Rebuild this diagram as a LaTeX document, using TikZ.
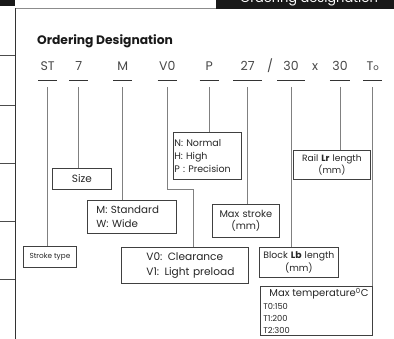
\documentclass[tikz,border=0pt]{standalone}
\usepackage{fontspec}
\setmainfont{Poppins}
\begin{document}
\begin{tikzpicture}[x=1pt,y=-1pt,
  conn/.style={draw=black!50, line width=0.9pt},
  rule/.style={draw=black!80, line width=0.9pt},
  uline/.style={draw=black!80, line width=0.8pt},
  code/.style={inner sep=0pt, text height=9pt, text depth=9pt, anchor=south, font=\fontsize{12.5}{14}\selectfont, text=black!72},
  box/.style={draw=black!75, line width=0.8pt, inner sep=0pt, anchor=north west, text=black!85},
]
\useasboundingbox (0,0) rectangle (394,339);
% header
\fill[black!90] (0,0) rectangle (15,6);
\fill[black!90] (216,0) rectangle (394,9);
\draw[draw=black!45, line width=0.8pt] (15,8) -- (216,8);
\begin{scope}
  \clip (0,0) rectangle (394,339);
  \node[anchor=base, text=white, font=\fontsize{13}{15}\selectfont, inner sep=0pt] (hdr) at (309,3) {Ordering designation};
\end{scope}
% left frame
\draw[rule] (15,8) -- (15,339);
\foreach \yy in {55,105,163,221,279} \draw[draw=black!70, line width=0.8pt] (0,\yy) -- (15,\yy);
% title
\node[anchor=base west, inner sep=0pt, font=\bfseries\fontsize{12.3}{14}\selectfont, text=black!90] (title) at (37,45) {Ordering Designation};
% codes
\node[code, minimum width=19] (st) at (47.7,80) {ST};
\node[code, minimum width=19] (seven) at (78.7,80) {7};
\node[code, minimum width=19] (m) at (122.7,80) {M};
\node[code, minimum width=19] (v0) at (167.3,80) {V0};
\node[code, minimum width=19] (p) at (209.3,80) {P};
\node[code, minimum width=29] (s27) at (247.7,80) {27};
\node[code] (slash) at (270,80) {/};
\node[code, minimum width=27] (s30a) at (291,80) {30};
\node[code] (times) at (315,80) {x};
\node[code, minimum width=20] (s30b) at (340,80) {30};
\node[code, minimum width=19] (to) at (372.7,80) {T{\fontsize{8.5}{9}\selectfont o}};
\foreach \n in {st,seven,m,v0,p,s27,s30a,s30b,to} \draw[uline] (\n.south west) -- (\n.south east);
% boxes
\node[box, minimum width=59, minimum height=21, font=\fontsize{10.5}{12}\selectfont] (size) at (52,168) {Size};
\node[box, minimum width=89, minimum height=33, text width=79, inner xsep=5, align=left, font=\fontsize{10.3}{13.5}\selectfont] (mbox) at (87,200) {\hspace*{4pt}M: Standard\\\hspace*{4pt}W: Wide};
\node[box, minimum width=68, minimum height=47, text width=66, inner xsep=1, align=left, font=\fontsize{9.5}{13}\selectfont] (pbox) at (173,132) {N: Normal\\H: High\\P : Precision};
\node[box, minimum width=67, minimum height=33, text width=67, align=center, font=\fontsize{9.8}{11.5}\selectfont] (stroke) at (212,204) {Max stroke\\(mm)};
\node[box, minimum width=77, minimum height=29, text width=77, align=center, font=\fontsize{9.1}{12}\selectfont] (rail) at (293,150) {Rail \textbf{Lr} length\\(mm)};
\node[box, minimum width=79, minimum height=30, text width=79, align=center, font=\fontsize{9.3}{13}\selectfont] (block) at (259,247) {Block \textbf{Lb} length\\(mm)};
\node[box, minimum width=127, minimum height=36, text width=123, inner xsep=2, align=left, font=\fontsize{10.6}{15}\selectfont] (vbox) at (121,247) {\hspace*{23pt}V0: Clearance\\\hspace*{23pt}V1: Light preload};
\node[box, minimum width=53, minimum height=21, font=\fontsize{7.3}{8}\selectfont] (stype) at (23,246) {Stroke type};
\node[box, minimum width=112, minimum height=49, text width=106, inner xsep=3, align=left, font=\fontsize{8.3}{12.3}\selectfont] (temp) at (260,286) {\hspace*{6pt}{\fontsize{10}{10}\selectfont Max temperature$^{\mathrm{0}}$C}\\T0:150\\T1:200\\T2:300};
% connectors
\draw[conn] ([yshift=-7pt]st.south) -- (st.south |- stype.north);
\draw[conn] ([yshift=-7pt]seven.south) -- (seven.south |- size.north);
\draw[conn] ([yshift=-7pt]m.south) -- (m.south |- mbox.north);
\coordinate (vbend) at (193,189);
\draw[conn] ([yshift=-7pt]v0.south) -- (v0.south |- vbend) -- (vbend) -- (vbend |- vbox.north);
\draw[conn] ([yshift=-7pt]p.south) -- (p.south |- pbox.north);
\draw[conn] ([yshift=-7pt]s27.south) -- (s27.south |- stroke.north);
\draw[conn] ([yshift=-7pt]s30a.south) -- (s30a.south |- block.north);
\draw[conn] ([yshift=-7pt]s30b.south) -- (s30b.south |- rail.north);
\draw[conn] ([yshift=-7pt]to.south) -- (to.south |- temp.north);
\end{tikzpicture}
\end{document}
